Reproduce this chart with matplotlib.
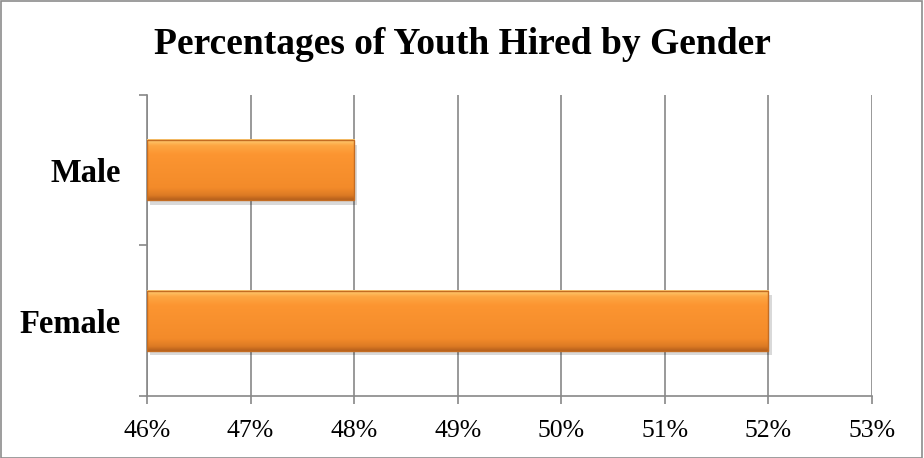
import numpy as np
import matplotlib.pyplot as plt
from matplotlib.colors import LinearSegmentedColormap
from matplotlib.patches import Rectangle

genders = ["Female", "Male"]
percent_hired = [52, 48]
x_ticks = [46, 47, 48, 49, 50, 51, 52, 53]

plt.rcParams['font.family'] = ['Liberation Serif', 'DejaVu Serif']

fig = plt.figure(figsize=(9.24, 4.58), dpi=100)
ax = fig.add_axes([0.1591, 0.1354, 0.7846, 0.6572])

# thin frame round the whole picture
fig.patches.append(Rectangle((0.001, 0.001), 0.997, 0.997, transform=fig.transFigure,
                             fill=False, edgecolor='#8c8c8c', linewidth=1.2))

y = np.arange(len(genders))
bars = ax.barh(y, [v - 46 for v in percent_hired], left=46, height=0.4,
               color='none', edgecolor='none', zorder=3)

cmap = LinearSegmentedColormap.from_list(
    'bevel', [(0.0, '#b5601c'), (0.07, '#dc7a24'), (0.2, '#f38b2a'),
              (0.75, '#fc9531'), (0.9, '#fda642'), (1.0, '#ffcf78')])
grad = np.linspace(0, 1, 100).reshape(-1, 1)
for b in bars:
    x0, y0, w, h = b.get_x(), b.get_y(), b.get_width(), b.get_height()
    # soft shadow
    ax.add_patch(Rectangle((x0 + 0.03, y0 - 0.03), w, h, facecolor='#000000',
                           alpha=0.15, edgecolor='none', zorder=2))
    ax.imshow(grad, extent=(x0, x0 + w, y0, y0 + h), origin='lower', cmap=cmap,
              aspect='auto', zorder=3, interpolation='bicubic')
    ax.add_patch(Rectangle((x0, y0), w, h, fill=False, edgecolor='#c46c22',
                           linewidth=1.0, zorder=4))

ax.set_xlim(46, 53)
ax.set_ylim(-0.5, 1.5)
ax.set_xticks(x_ticks)
ax.set_xticklabels([f"{t}%" for t in x_ticks], fontsize=18.5)
ax.set_yticks(y)
ax.set_yticklabels(genders, fontsize=23.5, fontweight='bold')
ax.tick_params(axis='y', length=0, pad=19)
ax.set_yticks([-0.5, 0.5, 1.5], minor=True)
ax.tick_params(axis='y', which='minor', length=6, color='#888888', width=1.2)
ax.tick_params(axis='x', length=6, color='#888888', width=1.2, pad=11)

ax.grid(axis='x', color='#888888', linewidth=1.2, zorder=0)
ax.set_axisbelow(True)
for side in ['top', 'right']:
    ax.spines[side].set_visible(False)
for side in ['left', 'bottom']:
    ax.spines[side].set_color('#888888')
    ax.spines[side].set_linewidth(1.2)

fig.text(0.5, 0.902, "Percentages of Youth Hired by Gender", ha='center', va='center',
         fontsize=27, fontweight='bold')

fig.savefig("out.png", dpi=100)
